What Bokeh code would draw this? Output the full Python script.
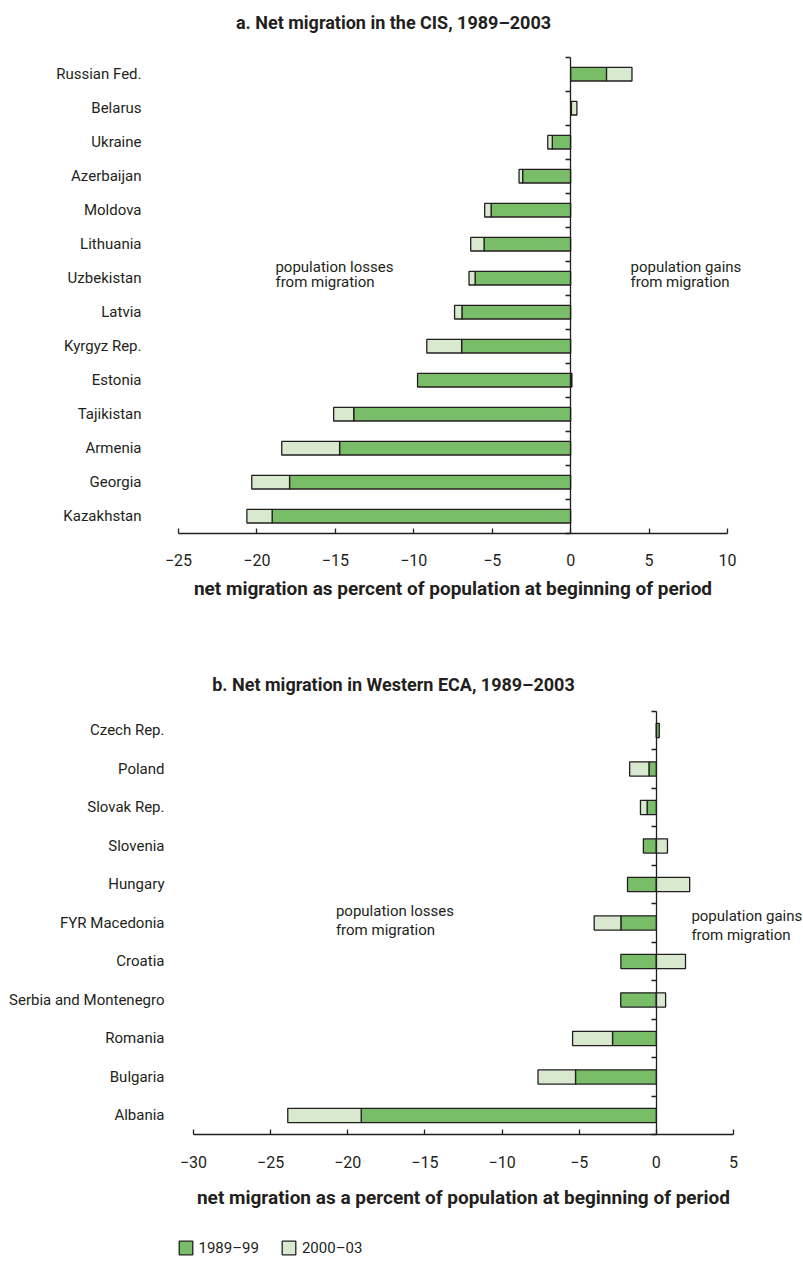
from bokeh.plotting import figure
from bokeh.models import (LinearAxis, FixedTicker, Range1d, Label, Legend,
                          LegendItem, ColumnDataSource)
from bokeh.layouts import column
from bokeh.embed import file_html
from bokeh.resources import INLINE

# ---------------- data ----------------
cis_countries = ["Russian Fed.", "Belarus", "Ukraine", "Azerbaijan", "Moldova",
                 "Lithuania", "Uzbekistan", "Latvia", "Kyrgyz Rep.", "Estonia",
                 "Tajikistan", "Armenia", "Georgia", "Kazakhstan"]
cis_1989_99 = [2.29, 0.05, -1.17, -3.06, -5.07, -5.52, -6.09, -6.93, -6.95,
               -9.76, -13.83, -14.73, -17.92, -19.03]
cis_2000_03 = [1.62, 0.35, -0.29, -0.23, -0.41, -0.85, -0.39, -0.47, -2.22,
               0.08, -1.28, -3.69, -2.41, -1.61]
cis_ticks = [-25, -20, -15, -10, -5, 0, 5, 10]
cis_tick_labels = ["\u221225", "\u221220", "\u221215", "\u221210", "\u22125", "0", "5", "10"]

west_countries = ["Czech Rep.", "Poland", "Slovak Rep.", "Slovenia", "Hungary",
                  "FYR Macedonia", "Croatia", "Serbia and Montenegro", "Romania",
                  "Bulgaria", "Albania"]
west_1989_99 = [0.19, -0.48, -0.60, -0.84, -1.87, -2.30, -2.30, -2.31, -2.84,
                -5.24, -19.13]
west_2000_03 = [0.0, -1.25, -0.43, 0.72, 2.16, -1.73, 1.89, 0.60, -2.59,
                -2.43, -4.76]
west_ticks = [-30, -25, -20, -15, -10, -5, 0, 5]
west_tick_labels = ["\u221230", "\u221225", "\u221220", "\u221215", "\u221210", "\u22125", "0", "5"]

series_labels = ["1989\u201399", "2000\u201303"]

# ---------------- styles ----------------
FONT = "Roboto"
TXT = "#231f20"
GREEN = "#79bd69"
LIGHT = "#d9e9d0"
EDGE = "#231f20"
LBL_SIZE = "15px"
TICK_SIZE = "16px"
NOTE_SIZE = "15px"
BOLD_SIZE = "18px"
XLABEL_SIZE = "19px"
W = 803


def segments(g, l):
    gl = [min(0, v) for v in g]
    gr = [max(0, v) for v in g]
    ll, lr = [], []
    for a, b in zip(g, l):
        if a * b > 0:
            s, e = a, a + b
        else:
            s, e = 0, b
        ll.append(min(s, e))
        lr.append(max(s, e))
    return gl, gr, ll, lr


def make_chart(countries, g, l, ticks, tick_labels, height,
               px_left, px_right, px_top, cat_px, label_standoff, xlabel,
               xlabel_standoff, bar_h):
    """px_left/px_right: pixel positions of first/last tick; px_top: pixel of
    top category boundary; cat_px: pixel height per category."""
    n = len(countries)
    ys = list(range(1, n + 1))
    lo, hi = ticks[0], ticks[-1]
    upp = (hi - lo) / (px_right - px_left)            # units per pixel
    x0 = lo - px_left * upp
    x1 = hi + (W - px_right) * upp
    y_top = 0.5 - px_top / cat_px
    y_bot = 0.5 + (height - px_top) / cat_px
    p = figure(width=W, height=height, x_range=Range1d(x0, x1),
               y_range=Range1d(y_bot, y_top), output_backend="svg",
               toolbar_location=None, min_border=0, min_border_left=0,
               min_border_right=0, min_border_top=0, min_border_bottom=0,
               x_axis_location=None, y_axis_location=None)
    p.grid.visible = False
    p.outline_line_color = None
    p.background_fill_color = None
    p.border_fill_color = None

    gl, gr, ll, lr = segments(g, l)
    src = ColumnDataSource(dict(y=ys, gl=gl, gr=gr, ll=ll, lr=lr))
    r1 = p.hbar(y="y", left="gl", right="gr", height=bar_h, source=src,
                fill_color=GREEN, line_color=EDGE, line_width=1.3)
    r2 = p.hbar(y="y", left="ll", right="lr", height=bar_h, source=src,
                fill_color=LIGHT, line_color=EDGE, line_width=1.3)

    # category label axis (no line, no ticks), anchored at left end of x axis
    ya = LinearAxis(fixed_location=lo, ticker=FixedTicker(ticks=ys),
                    major_label_overrides={y: c for y, c in zip(ys, countries)},
                    axis_line_color=None, major_tick_line_color=None,
                    minor_tick_line_color=None, major_tick_out=0,
                    major_tick_in=0, major_label_standoff=label_standoff,
                    major_label_text_font=FONT,
                    major_label_text_font_size=LBL_SIZE,
                    major_label_text_color=TXT)
    p.add_layout(ya, "left")

    # zero axis with ticks at category boundaries
    bnds = [i + 0.5 for i in range(n + 1)]
    za = LinearAxis(fixed_location=0, bounds=(0.5, n + 0.5),
                    ticker=FixedTicker(ticks=bnds),
                    major_label_overrides={b: "" for b in bnds},
                    major_label_text_color=None,
                    major_tick_out=5, major_tick_in=0,
                    axis_line_color=EDGE, axis_line_width=1.3,
                    major_tick_line_color=EDGE, major_tick_line_width=1.3,
                    minor_tick_line_color=None)
    p.add_layout(za, "left")

    xa = LinearAxis(fixed_location=n + 0.5, bounds=(lo, hi),
                    ticker=FixedTicker(ticks=ticks),
                    major_label_overrides={t: s for t, s in zip(ticks, tick_labels)},
                    major_tick_in=5, major_tick_out=0,
                    axis_line_color=EDGE, axis_line_width=1.3,
                    major_tick_line_color=EDGE, major_tick_line_width=1.3,
                    minor_tick_line_color=None,
                    major_label_standoff=21,
                    major_label_text_font=FONT,
                    major_label_text_font_size=TICK_SIZE,
                    major_label_text_color=TXT,
                    axis_label=xlabel, axis_label_text_font=FONT,
                    axis_label_text_font_style="bold",
                    axis_label_text_font_size=XLABEL_SIZE,
                    axis_label_text_color=TXT,
                    axis_label_standoff=xlabel_standoff)
    p.add_layout(xa, "below")
    return p, r1, r2


def note(p, x, y, text):
    p.add_layout(Label(x=x, y=y, text=text, text_font=FONT,
                       text_font_size=NOTE_SIZE, text_color=TXT,
                       text_align="left", text_baseline="middle"))


def title(p, sx, sy_from_top, height, text):
    p.add_layout(Label(x=sx, y=height - sy_from_top, x_units="screen",
                       y_units="screen", text=text, text_font=FONT,
                       text_font_style="bold", text_font_size=BOLD_SIZE,
                       text_color=TXT, text_align="center",
                       text_baseline="middle"))


# ---------------- chart a ----------------
HA = 640
pa, a1, a2 = make_chart(cis_countries, cis_1989_99, cis_2000_03, cis_ticks,
                        cis_tick_labels, HA, 178, 727, 56.7, 34, 37,
                        "net migration as percent of population at beginning of period",
                        7, 0.4)
title(pa, 393, 22, HA, "a. Net migration in the CIS, 1989\u20132003")
note(pa, -18.82, 6.685, "population losses")
note(pa, -18.82, 7.126, "from migration")
note(pa, 3.815, 6.685, "population gains")
note(pa, 3.815, 7.126, "from migration")

# ---------------- chart b ----------------
HB = 624
pb, b1, b2 = make_chart(west_countries, west_1989_99, west_2000_03, west_ticks,
                        west_tick_labels, HB, 193, 733, 70.7, 38.5, 29,
                        "net migration as a percent of population at beginning of period",
                        15, 0.37)
title(pb, 393, 44, HB, "b. Net migration in Western ECA, 1989\u20132003")
note(pb, -20.77, 5.70, "population losses")
note(pb, -20.77, 6.196, "from migration")
note(pb, 2.27, 5.83, "population gains")
note(pb, 2.27, 6.30, "from migration")

legend = Legend(items=[LegendItem(label=series_labels[0], renderers=[b1]),
                       LegendItem(label=series_labels[1], renderers=[b2])],
                location=(176.5, HB - 616.5), orientation="horizontal",
                padding=0, margin=0, spacing=21, label_standoff=5,
                glyph_width=17, glyph_height=17, label_height=17,
                label_text_font=FONT, label_text_font_size=LBL_SIZE,
                label_text_color=TXT, border_line_color=None,
                background_fill_alpha=0)
pb.add_layout(legend)

layout = column(pa, pb, spacing=0)
open("out.html", "w").write(file_html(layout, INLINE))
